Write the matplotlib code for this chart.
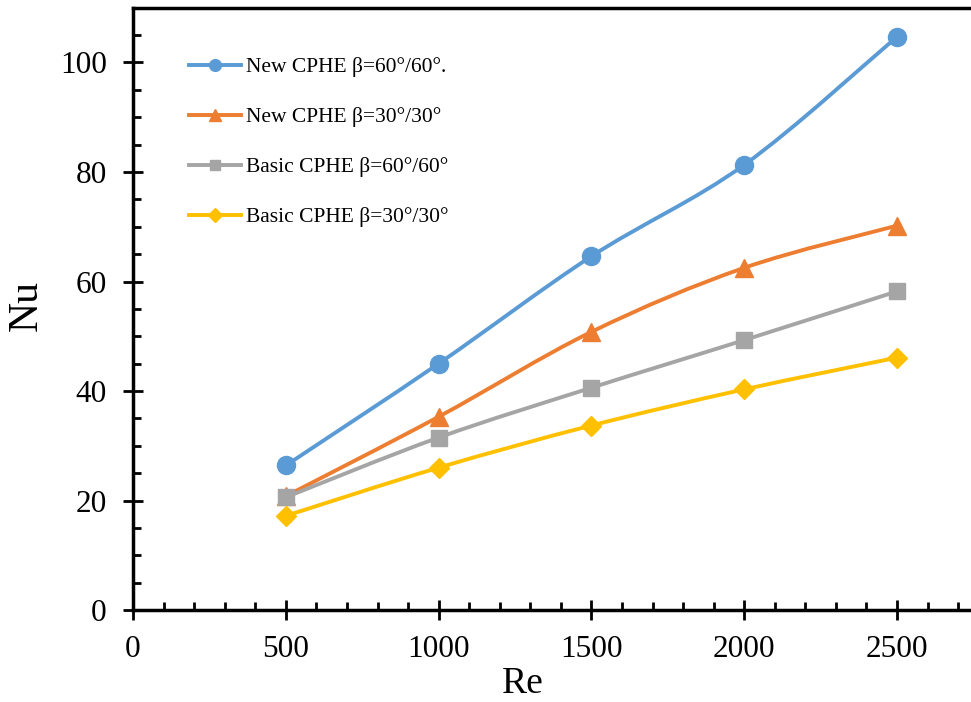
import numpy as np
import matplotlib.pyplot as plt
from matplotlib.path import Path
from matplotlib.patches import PathPatch
from matplotlib.lines import Line2D
from matplotlib.ticker import MultipleLocator

plt.rcParams['font.family'] = ['Liberation Serif', 'DejaVu Serif']

# Reynolds number and Nusselt number for each plate configuration
re = [500, 1000, 1500, 2000, 2500]
nu_new_60 = [26.4, 45.0, 64.6, 81.3, 104.7]
nu_new_30 = [20.8, 35.3, 50.8, 62.5, 70.2]
nu_basic_60 = [20.6, 31.5, 40.6, 49.3, 58.2]
nu_basic_30 = [17.2, 26.0, 33.7, 40.3, 46.1]

labels = ['New CPHE \u03b2=60\u00b0/60\u00b0.', 'New CPHE \u03b2=30\u00b0/30\u00b0',
          'Basic CPHE \u03b2=60\u00b0/60\u00b0', 'Basic CPHE \u03b2=30\u00b0/30\u00b0']
colors = ['#5B9BD5', '#ED7D31', '#A5A5A5', '#FFC000']
markers = ['o', '^', 's', 'D']
sizes = [13, 12.5, 12, 10.5]
series = [nu_new_60, nu_new_30, nu_basic_60, nu_basic_30]


def smooth_path(x, y):
    # bezier segments through the points (same idea as a "smoothed line")
    pts = np.column_stack([x, y]).astype(float)
    n = len(pts)
    verts = [pts[0]]
    codes = [Path.MOVETO]
    for i in range(n - 1):
        p0 = pts[max(i - 1, 0)]
        p1 = pts[i]
        p2 = pts[i + 1]
        p3 = pts[min(i + 2, n - 1)]
        c1 = p1 + (p2 - p0) / 6.0
        c2 = p2 - (p3 - p1) / 6.0
        verts += [c1, c2, p2]
        codes += [Path.CURVE4] * 3
    return Path(verts, codes)


fig = plt.figure(figsize=(9.71, 7.02), dpi=100)
ax = fig.add_axes([0.137, 0.131, 0.8655, 0.858])

handles = []
for yv, c, m, s, lab in zip(series, colors, markers, sizes, labels):
    ax.add_patch(PathPatch(smooth_path(re, yv), facecolor='none', edgecolor=c,
                           lw=2.8, zorder=2, capstyle='round'))
    ax.plot(re, yv, linestyle='none', marker=m, ms=s, color=c, zorder=3)
    handles.append(Line2D([], [], color=c, lw=2.8, marker=m, ms=s * 0.65, label=lab))

ax.set_xlim(0, 2750)
ax.set_ylim(0, 110)
ax.xaxis.set_major_locator(MultipleLocator(500))
ax.xaxis.set_minor_locator(MultipleLocator(100))
ax.yaxis.set_major_locator(MultipleLocator(20))
ax.yaxis.set_minor_locator(MultipleLocator(5))
ax.tick_params(which='major', direction='inout', length=14, width=2, labelsize=22.5)
ax.tick_params(axis='x', which='major', pad=11)
ax.tick_params(axis='y', which='major', pad=12)
ax.tick_params(which='minor', direction='in', length=6, width=2)
ax.tick_params(top=False, right=False)
for sp in ax.spines.values():
    sp.set_linewidth(2.5)
ax.spines['right'].set_visible(False)

ax.set_xlabel('Re', fontsize=27, va='center')
ax.set_ylabel('Nu', fontsize=30, va='center')
ax.xaxis.set_label_coords(0.464, -0.123)
ax.yaxis.set_label_coords(-0.127, 0.505)

ax.legend(handles=handles, loc='upper left', bbox_to_anchor=(0.043, 0.95),
          frameon=False, fontsize=15.5, handlelength=2.46, handletextpad=0.23,
          labelspacing=1.39)

fig.savefig('out.png', dpi=100)
